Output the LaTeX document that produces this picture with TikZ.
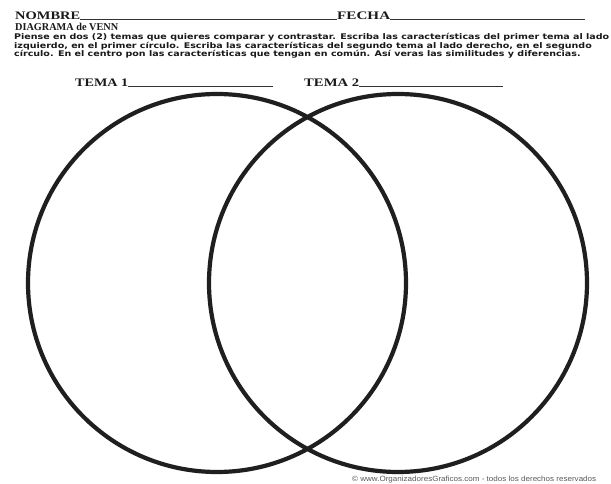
\documentclass[tikz,border=0pt]{standalone}
\usepackage{fontspec}
\setmainfont{Liberation Serif}
\newfontfamily\bodyfont{DejaVu Sans}
\newfontfamily\footfont{Liberation Sans}
\usepackage{graphicx}
\newcommand{\hw}[2]{\resizebox{#1}{\height}{#2}}
\begin{document}
\begin{tikzpicture}[x=1pt,y=-1pt,
  head/.style={font=\fontsize{11.5}{11.5}\selectfont\bfseries, inner sep=0pt, anchor=base west, text=black!90},
  rule/.style={line width=1pt, black!80},
  ring/.style={circle, draw=black!88, line width=4.2pt, inner sep=0pt, minimum size=378pt}]
\useasboundingbox (0,0) rectangle (611,484);
\fill[white] (0,0) rectangle (611,484);

% header
\node[head] (nombre) at (15,20) {\hw{65pt}{NOMBRE}};
\coordinate (nend) at (337,20);
\draw[rule] (nombre.base east) -- (nend);
\node[head] (fecha) at (nend) {\hw{53pt}{FECHA}};
\coordinate (fend) at (585,20);
\draw[rule] (fecha.base east) -- (fend);

\node[head, font=\fontsize{10.5}{10.5}\selectfont\bfseries] (titulo) at (15,31) {\hw{103pt}{DIAGRAMA de VENN}};

\node[anchor=north west, inner sep=0pt, text=black!90] (body) at (14,33.5)
  {\resizebox*{595pt}{\totalheight}{\fontsize{7.8}{6.6}\bodyfont\bfseries
   \begin{tabular}{@{}l@{}}
   Piense en dos (2) temas que quieres comparar y contrastar. Escriba las características del primer tema al lado\\
   izquierdo, en el primer círculo. Escriba las características del segundo tema al lado derecho, en el segundo\\
   círculo. En el centro pon las características que tengan en común. Así veras las similitudes y diferencias.
   \end{tabular}}};

% tema labels
\node[head] (tema1) at (75,87) {\hw{53pt}{TEMA 1}};
\coordinate (t1end) at (273,87);
\draw[rule] (tema1.base east) -- (t1end);
\node[head] (tema2) at (304,87) {\hw{55pt}{TEMA 2}};
\coordinate (t2end) at (503,87);
\draw[rule] (tema2.base east) -- (t2end);

% circles
\node[ring] (c1) at (217,283) {};
\node[ring] (c2) at (398,283) {};

% footer
\node[anchor=base west, inner sep=0pt, font=\fontsize{7.5}{7.5}\footfont, text=black!65] (foot) at (352,481.5)
  {\hw{244pt}{© www.OrganizadoresGraficos.com - todos los derechos reservados}};
\end{tikzpicture}
\end{document}
